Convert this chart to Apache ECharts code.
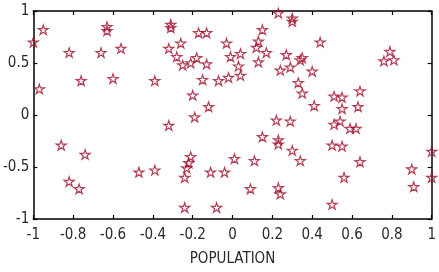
<!DOCTYPE html>
<html>
<head>
<meta charset="utf-8">
<script src="https://cdn.jsdelivr.net/npm/echarts@6/dist/echarts.min.js"></script>
<style>
  html, body { margin: 0; padding: 0; background: #fff; }
  #main { width: 439px; height: 272px; }
</style>
</head>
<body>
<div id="main"></div>
<script>
// point positions
var xs = [
  -1.00, -0.95, -0.97, -0.82, -0.76, -0.66, -0.63, -0.63, -0.60, -0.56,
  -0.39, -0.31, -0.31, -0.17, -0.13, -0.32, -0.26, -0.28, -0.25, -0.21,
  -0.18, -0.13, -0.15, -0.20, -0.12, -0.19, -0.32, -0.07, -0.02, -0.03,
  -0.01, 0.04, 0.03, 0.04, 0.15, 0.13, 0.12, 0.17, 0.13, 0.23,
  0.30, 0.30, 0.24, 0.27, 0.29, 0.22, 0.29, 0.44, 0.34, 0.35,
  0.40, 0.33, 0.35, 0.41, 0.51, 0.55, 0.55, 0.64, 0.63, 0.51,
  0.54, 0.59, 0.62, 0.76, 0.79, 0.81, 0.50, 0.55, 0.30, 0.34,
  0.64, 0.56, 0.50, 1.00, 1.00, 0.90, 0.91, 0.15, 0.23, 0.23,
  0.01, 0.11, -0.21, -0.22, -0.23, -0.24, -0.39, -0.47, -0.11, -0.04,
  0.09, 0.23, 0.24, -0.24, -0.08, -0.86, -0.74, -0.82, -0.77
];
var ys = [
  0.70, 0.82, 0.25, 0.60, 0.33, 0.60, 0.85, 0.81, 0.35, 0.64,
  0.33, 0.87, 0.84, 0.79, 0.79, 0.64, 0.69, 0.56, 0.48, 0.50,
  0.55, 0.49, 0.34, 0.19, 0.08, -0.02, -0.10, 0.33, 0.36, 0.69,
  0.56, 0.59, 0.47, 0.38, 0.82, 0.71, 0.65, 0.60, 0.51, 0.98,
  0.93, 0.90, 0.43, 0.58, 0.46, -0.05, -0.06, 0.70, 0.53, 0.55,
  0.42, 0.31, 0.21, 0.09, 0.18, 0.17, 0.06, 0.23, 0.08, -0.09,
  -0.06, -0.13, -0.13, 0.52, 0.61, 0.53, -0.29, -0.30, -0.34, -0.44,
  -0.45, -0.60, -0.86, -0.35, -0.60, -0.52, -0.69, -0.21, -0.24, -0.28,
  -0.42, -0.44, -0.40, -0.46, -0.51, -0.60, -0.53, -0.55, -0.55, -0.55,
  -0.71, -0.70, -0.76, -0.89, -0.89, -0.29, -0.38, -0.64, -0.71
];
var xTicks = [-1, 1, 0.2];   // min, max, step
var yTicks = [-1, 1, 0.5];
var xName = 'POPULATION';

var points = xs.map(function (x, i) { return [x, ys[i]]; });

// pentagram outline, like matlab's 'p' marker
var star = 'path://M100,0 L122.45,69.1 L195.1,69.1 L136.3,111.8 L158.8,180.9 L100,138.2 L41.2,180.9 L63.7,111.8 L4.9,69.1 L77.55,69.1 Z';

var font = "'Liberation Sans Narrow', 'DejaVu Sans Condensed', 'Roboto Condensed', 'Liberation Sans', sans-serif";
var fmt = function (v) { return String(+v.toFixed(1)); };

var axisBase = function (t, pos, showLabel) {
  return {
    type: 'value',
    position: pos,
    min: t[0], max: t[1], interval: t[2],
    axisLine: { show: true, onZero: false, lineStyle: { color: '#000', width: 1.5 } },
    axisTick: { show: true, inside: true, length: 4, lineStyle: { color: '#000', width: 1.2 } },
    splitLine: { show: false },
    axisLabel: {
      show: showLabel, color: '#2a2a2a', fontFamily: font, fontSize: 15,
      formatter: fmt
    }
  };
};

var chart = echarts.init(document.getElementById('main'));

var xBottom = axisBase(xTicks, 'bottom', true);
xBottom.axisLabel.margin = 9;
xBottom.name = xName;
xBottom.nameLocation = 'middle';
xBottom.nameGap = 33;
xBottom.nameTextStyle = { color: '#2a2a2a', fontFamily: font, fontSize: 15 };

var yLeft = axisBase(yTicks, 'left', true);
yLeft.axisLabel.margin = 4;

chart.setOption({
  backgroundColor: '#fff',
  animation: false,
  grid: { left: 23, right: 7, top: 11, bottom: 51, containLabel: false },
  xAxis: [xBottom, axisBase(xTicks, 'top', false)],
  yAxis: [yLeft, axisBase(yTicks, 'right', false)],
  series: [{
    type: 'scatter',
    xAxisIndex: 0,
    yAxisIndex: 0,
    data: points,
    symbol: star,
    symbolKeepAspect: true,
    symbolSize: 10,
    itemStyle: {
      color: 'rgba(255,255,255,0)',
      borderColor: '#a0102c',
      borderWidth: 1.2
    }
  }]
});
</script>
</body>
</html>
